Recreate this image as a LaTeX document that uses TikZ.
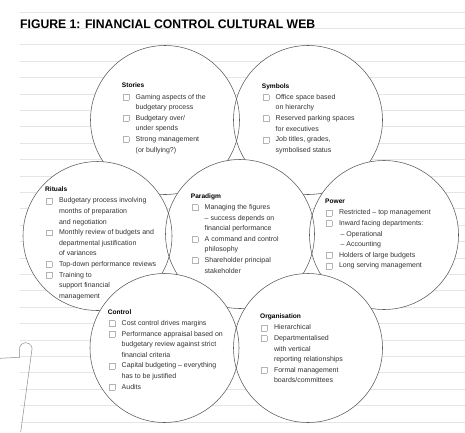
\documentclass[tikz,border=0pt]{standalone}
\usepackage{fontspec}
\setmainfont{Liberation Sans}
\usepackage{graphicx}
\usepackage{array}
\definecolor{bgline}{HTML}{E6E6E0}
\definecolor{circ}{HTML}{5A5A5A}
\definecolor{chkc}{HTML}{B4B4B4}
\definecolor{txt}{HTML}{333333}
\definecolor{pinc}{HTML}{8A8A8A}
\newcommand\chk{\raisebox{-0.8pt}{\textcolor{chkc}{\setlength\fboxsep{0pt}\setlength\fboxrule{0.45pt}\fbox{\rule{0pt}{5.4pt}\hspace{5.4pt}}}}}
\newcommand\hd[1]{\multicolumn{2}{@{}l@{}}{\fontsize{6.6}{10.6}\selectfont\bfseries\color{black}#1}\\[0.7pt]}
\newcommand\itm[1]{\makebox[13.8pt][l]{\hspace{0.8pt}\chk}&#1\\}
\newcommand\cnt[1]{&#1\\}
\tikzset{
  web/.style={circle, draw=circ, line width=0.55pt, minimum size=149pt, inner sep=0pt},
  blk/.style={anchor=north west, inner sep=0pt, font=\fontsize{7}{10.6}\selectfont, text=txt},
  bgl/.style={draw=bgline, line width=0.8pt}
}
\begin{document}
\begin{tikzpicture}[x=1pt,y=-1pt]
\useasboundingbox (0,0) rectangle (465,432);
\fill[white] (0,0) rectangle (465,432);
\foreach \k in {0,...,25} \draw[bgl] (20,{12+16.4*\k}) -- (465,{12+16.4*\k});
\node[anchor=base west, inner sep=0pt] (title) at (20,28.7) {\resizebox{295pt}{8.7pt}{\bfseries FIGURE 1: FINANCIAL CONTROL CULTURAL WEB}};
\draw[pinc, line width=0.5pt] (0,358.3) -- (19.5,357.3) -- (19.5,349) arc[start angle=180, end angle=-20, radius=6.3pt] -- (20.7,432);
% row 1
\fill[white] (165,120) circle[radius=74.5pt];
\fill[white] (308,120) circle[radius=74.5pt];
\node[web] (stories) at (165,120) {};
\node[web] (symbols) at (308,120) {};
% row 2
\fill[white] (97.5,236) circle[radius=74.5pt];
\fill[white] (240,234) circle[radius=74.5pt];
\fill[white] (384,235) circle[radius=74.5pt];
\node[web] (rituals) at (97.5,236) {};
\node[web] (paradigm) at (240,234) {};
\node[web] (power) at (384,235) {};
% row 3
\fill[white] (164.5,348) circle[radius=74.5pt];
\fill[white] (308,348) circle[radius=74.5pt];
\node[web] (control) at (164.5,348) {};
\node[web] (organisation) at (308,348) {};
% texts
\node[blk] (tstories) at (121.7,80.1) {\begin{tabular}{@{}l@{}l@{}}
\hd{Stories}
\itm{Gaming aspects of the}
\cnt{budgetary process}
\itm{Budgetary over/}
\cnt{under spends}
\itm{Strong management}
\cnt{(or bullying?)}
\end{tabular}};
\node[blk] (tsymbols) at (261.7,80.4) {\begin{tabular}{@{}l@{}l@{}}
\hd{Symbols}
\itm{Office space based}
\cnt{on hierarchy}
\itm{Reserved parking spaces}
\cnt{for executives}
\itm{Job titles, grades,}
\cnt{symbolised status}
\end{tabular}};
\node[blk] (trituals) at (45,183.9) {\begin{tabular}{@{}l@{}l@{}}
\hd{Rituals}
\itm{Budgetary process involving}
\cnt{months of preparation}
\cnt{and negotiation}
\itm{Monthly review of budgets and}
\cnt{departmental justification}
\cnt{of variances}
\itm{Top-down performance reviews}
\itm{Training to}
\cnt{support financial}
\cnt{management}
\end{tabular}};
\node[blk] (tparadigm) at (190.7,190.6) {\begin{tabular}{@{}l@{}l@{}}
\hd{Paradigm}
\itm{Managing the figures}
\cnt{– success depends on}
\cnt{financial performance}
\itm{A command and control}
\cnt{philosophy}
\itm{Shareholder principal}
\cnt{stakeholder}
\end{tabular}};
\node[blk] (tpower) at (325,195.9) {\begin{tabular}{@{}l@{}l@{}}
\hd{Power}
\itm{Restricted – top management}
\itm{Inward facing departments:}
\cnt{\hspace{1.5pt}– Operational}
\cnt{\hspace{1.5pt}– Accounting}
\itm{Holders of large budgets}
\itm{Long serving management}
\end{tabular}};
\node[blk] (tcontrol) at (107.7,306.6) {\begin{tabular}{@{}l@{}l@{}}
\hd{Control}
\itm{Cost control drives margins}
\itm{Performance appraisal based on}
\cnt{budgetary review against strict}
\cnt{financial criteria}
\itm{Capital budgeting – everything}
\cnt{has to be justified}
\itm{Audits}
\end{tabular}};
\node[blk] (torganisation) at (260,310.9) {\begin{tabular}{@{}l@{}l@{}}
\hd{Organisation}
\itm{Hierarchical}
\itm{Departmentalised}
\cnt{with vertical}
\cnt{reporting relationships}
\itm{Formal management}
\cnt{boards/committees}
\end{tabular}};
\end{tikzpicture}
\end{document}
